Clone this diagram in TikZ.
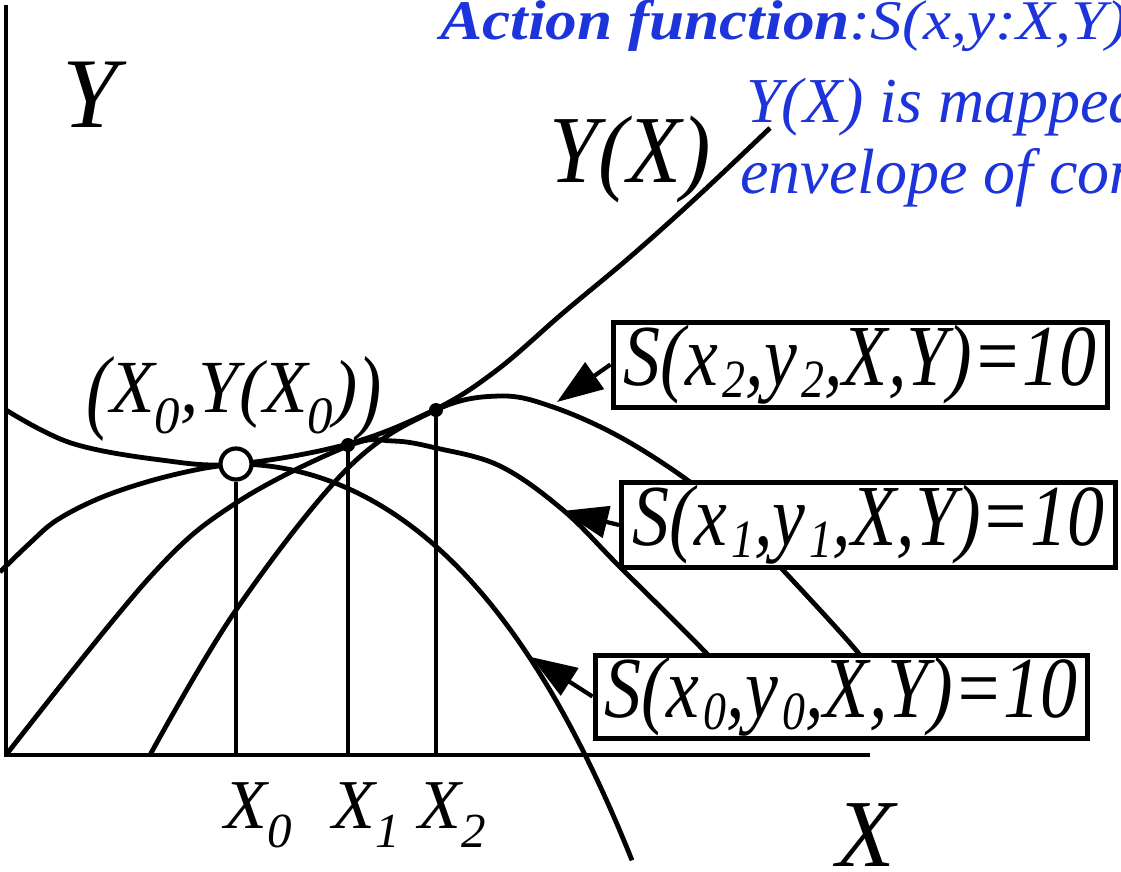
\documentclass[tikz,border=0pt]{standalone}
\usepackage{fontspec}
\setmainfont{Liberation Serif}
\usepackage{graphicx}
\usetikzlibrary{arrows.meta}
\definecolor{tblue}{RGB}{28,52,218}
\newcommand\sbx[3]{\raisebox{-#2em}{\scalebox{#1}{#3}}}
\newcommand\bsub[1]{\kern0.06em\sbx{0.62}{0.14}{#1}}
\newcommand\xsub[1]{\sbx{0.7}{0.28}{#1}}
\newcommand\boxtext[1]{\scalebox{0.85}[1]{\fontsize{87}{90}\selectfont\itshape S(x\bsub{#1},y\bsub{#1},X,Y)=10}}
\begin{document}
\begin{tikzpicture}[x=1pt,y=-1pt,
  axis/.style={line width=4.8pt},
  curve/.style={line width=4.8pt},
  vline/.style={line width=4.4pt},
  sbox/.style={draw, line width=5pt, fill=white, inner sep=0pt, minimum width=494pt, minimum height=85pt},
  arr/.style={line width=4.2pt, -{Triangle[length=46pt,width=32pt]}},
  dot/.style={circle, fill=black, inner sep=0pt, minimum size=14pt},
  lbl/.style={inner sep=0pt, anchor=base}]
\useasboundingbox (0,0) rectangle (1121,872);
\clip (0,0) rectangle (1121,872);

% axes
\coordinate (ytop) at (6,5);
\coordinate (O) at (6,755);
\coordinate (xend) at (870,755);
\draw[axis] (ytop) -- (O) -- (xend);

% envelope Y(X)
\draw[curve] plot[smooth, tension=0.6] coordinates {(6,410) (71,443) (161,460) (236,464) (348,444) (436,409) (497,370) (563,313) (630,257) (697,197) (770,128)};
% S0
\draw[curve] plot[smooth, tension=0.6] coordinates {(0,572) (30,543) (57,520) (100,498) (150,481) (200,469) (236,464)}
  -- plot[domain=236:632, samples=60] ({\x},{464+19*((\x-236)/100)*((\x-236)/100)+0.4*((\x-236)/100)*((\x-236)/100)*((\x-236)/100)*((\x-236)/100)});
% S1
\draw[curve] plot[smooth, tension=0.6] coordinates {(6,755) (150,577) (236,503) (348,446) (393,441) (436,448) (500,466) (563,510) (620,567) (708,655) (730,685)};
% S2
\draw[curve] plot[smooth, tension=0.6] coordinates {(150,755) (236,610) (348,468) (436,410) (500,396) (553,407) (620,437) (690,482) (740,525) (783,570) (860,655) (880,690)};

% tangent points
\node[dot] (p1) at (348,445) {};
\node[dot] (p2) at (436,410) {};
\node[circle, draw, fill=white, line width=4.2pt, minimum size=31pt, inner sep=0pt] (p0) at (236,464) {};
\coordinate (q0) at (236,755);
\coordinate (q1) at (348,755);
\coordinate (q2) at (436,755);
\draw[vline] (p0.south) -- (q0);
\draw[vline] (p1.center) -- (q1);
\draw[vline] (p2.center) -- (q2);

% boxes
\node[sbox] (b2) at (860,364.5) {\boxtext{2}};
\node[sbox] (b1) at (868.5,525) {\boxtext{1}};
\node[sbox, minimum width=492pt, minimum height=83pt] (b0) at (841,696.5) {\boxtext{0}};
\coordinate (t2) at (557,402);
\coordinate (t1) at (562,511);
\coordinate (t0) at (531,657);
\draw[arr] (b2.west) -- (t2);
\draw[arr] (b1.west) -- (t1);
\draw[arr] (b0.west) -- (t0);

% labels
\node[lbl] (ly) at (90,128) {\fontsize{100}{100}\selectfont\itshape Y};
\node[lbl] (lyx) at (630,182) {\scalebox{0.92}[1]{\fontsize{96}{100}\selectfont\itshape Y(X)}};
\node[lbl] (lx) at (866,866) {\fontsize{96}{100}\selectfont\itshape X};
\node[lbl] (lx0) at (258,828) {\fontsize{70}{80}\selectfont\itshape X\xsub{0}};
\node[lbl] (lx1) at (366,828) {\fontsize{70}{80}\selectfont\itshape X\xsub{1}};
\node[lbl] (lx2) at (452,828) {\fontsize{70}{80}\selectfont\itshape X\xsub{2}};
\node[lbl] (lp0) at (234,412) {\scalebox{0.97}[1]{\fontsize{75}{80}\selectfont\itshape\raisebox{-0.12em}{\scalebox{1}[1.25]{(}}X\xsub{0},Y(X\xsub{0})\raisebox{-0.12em}{\scalebox{1}[1.25]{)}}}};

% blue notes
\node[inner sep=0pt, anchor=base west, text=tblue] (note0) at (440,40) {\scalebox{1.13}[1]{\fontsize{56}{60}\selectfont\textbf{\textit{Action function}}\textit{:S(x,y:X,Y)}}};
\node[inner sep=0pt, anchor=base west, text=tblue] (note1) at (746,123) {\fontsize{64}{70}\selectfont\itshape Y(X) is mapped};
\node[inner sep=0pt, anchor=base west, text=tblue] (note2) at (740,193) {\fontsize{64}{70}\selectfont\itshape envelope of con};
\end{tikzpicture}
\end{document}
